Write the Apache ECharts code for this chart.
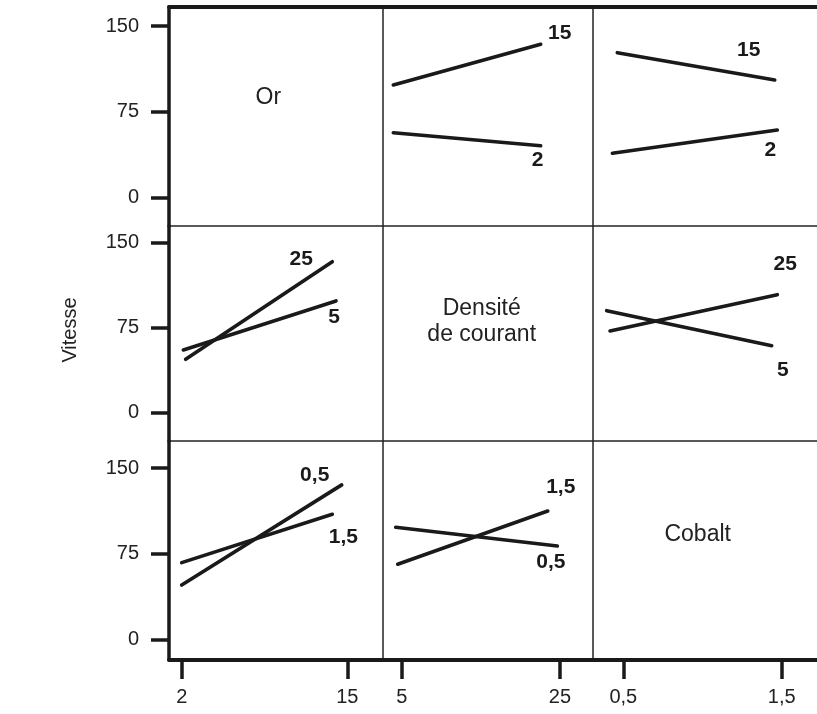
<!DOCTYPE html>
<html><head><meta charset="utf-8">
<script src="https://cdn.jsdelivr.net/npm/echarts@6/dist/echarts.min.js"></script>
<style>html,body{margin:0;padding:0;background:#fff}#c{width:817px;height:714px}</style>
</head><body><div id="c"></div>
<script>
// ---- DATA ----
const factorNames = ['Or', 'Densité\nde courant', 'Cobalt'];
const colTicks = [[2, 15], [5, 25], [0.5, 1.5]];
const yTicks = [0, 75, 150];
const yTitle = 'Vitesse';

// Row 1: levels of Or (15, 2)
const orDens_x = [3.94, 22.56];
const orDens_15 = [98.5, 134.0];
const orDens_2 = [56.8, 45.4];
const orCob_x15 = [0.462, 1.456];
const orCob_15 = [126.7, 102.8];
const orCob_x2 = [0.431, 1.472];
const orCob_2 = [38.8, 59.1];
// Row 2: levels of Densité (25, 5)
const densOr_x25 = [2.31, 13.82];
const densOr_25 = [47.1, 133.2];
const densOr_x5 = [2.13, 14.11];
const densOr_5 = [55.3, 98.6];
const densCob_x25 = [0.416, 1.472];
const densCob_25 = [72.1, 104.1];
const densCob_x5 = [0.395, 1.437];
const densCob_5 = [90.0, 59.1];
// Row 3: levels of Cobalt (0,5 / 1,5)
const cobOr_x05 = [2.0, 14.56];
const cobOr_05 = [47.6, 135.4];
const cobOr_x15 = [2.0, 13.82];
const cobOr_15 = [67.2, 109.6];
const cobDens_x15 = [4.49, 23.45];
const cobDens_15 = [65.8, 112.5];
const cobDens_x05 = [4.24, 24.66];
const cobDens_05 = [98.2, 81.8];

const lines = [
  {r:0, c:1, name:'15', x:orDens_x, y:orDens_15},
  {r:0, c:1, name:'2', x:orDens_x, y:orDens_2},
  {r:0, c:2, name:'15', x:orCob_x15, y:orCob_15},
  {r:0, c:2, name:'2', x:orCob_x2, y:orCob_2},
  {r:1, c:0, name:'25', x:densOr_x25, y:densOr_25},
  {r:1, c:0, name:'5', x:densOr_x5, y:densOr_5},
  {r:1, c:2, name:'25', x:densCob_x25, y:densCob_25},
  {r:1, c:2, name:'5', x:densCob_x5, y:densCob_5},
  {r:2, c:0, name:'0,5', x:cobOr_x05, y:cobOr_05},
  {r:2, c:0, name:'1,5', x:cobOr_x15, y:cobOr_15},
  {r:2, c:1, name:'1,5', x:cobDens_x15, y:cobDens_15},
  {r:2, c:1, name:'0,5', x:cobDens_x05, y:cobDens_05}
];

// ---- LAYOUT / STYLE ----
const labelOffsets = [[19,-11],[-3,14],[-26,-30],[-7,20.5],[-31,-2],[-2,16.5],[8,-30],[11,24.5],[-27,-10],[11,23],[13,-24],[-6.5,16]];
const colEdges = [169, 383, 593, 821];
const rowEdges = [7, 226, 441, 660];
const xRanges = [[1.003, 17.80], [2.637, 29.17], [0.3087, 1.748]];
const yRanges = [[-24.7, 166.6], [-25.0, 164.7], [-18.2, 173.9]];
const ink = '#1a1a1a';
const font = 'Liberation Sans, Arial, sans-serif';

const grid = [], xAxis = [], yAxis = [], series = [];
for (let r = 0; r < 3; r++) {
  for (let c = 0; c < 3; c++) {
    const gi = r * 3 + c;
    grid.push({left: colEdges[c], top: rowEdges[r], width: colEdges[c+1]-colEdges[c], height: rowEdges[r+1]-rowEdges[r],
      show: true, borderColor: '#222', borderWidth: 1, containLabel: false, outerBoundsMode: 'none'});
    xAxis.push({type: 'value', gridIndex: gi, min: xRanges[c][0], max: xRanges[c][1],
      position: r === 0 ? 'top' : 'bottom',
      axisLine: {show: r !== 1, onZero: false, lineStyle: {color: ink, width: 4}},
      axisTick: {show: r === 2, customValues: colTicks[c], length: 19, lineStyle: {color: ink, width: 3.5}},
      axisLabel: {show: r === 2, customValues: colTicks[c], margin: 27, fontSize: 20, color: '#222', fontFamily: font,
        formatter: v => String(v).replace('.', ',')},
      splitLine: {show: false}});
    yAxis.push({type: 'value', gridIndex: gi, min: yRanges[r][0], max: yRanges[r][1],
      axisLine: {show: c === 0, onZero: false, lineStyle: {color: ink, width: 3.5}},
      axisTick: {show: c === 0, customValues: yTicks, length: 18, lineStyle: {color: ink, width: 3.5}},
      axisLabel: {show: c === 0, customValues: yTicks, margin: 30, fontSize: 20, color: '#222', fontFamily: font},
      splitLine: {show: false}});
  }
}
lines.forEach((ln, i) => {
  const gi = ln.r * 3 + ln.c;
  series.push({type: 'line', xAxisIndex: gi, yAxisIndex: gi, symbol: 'circle', symbolSize: 2,
    itemStyle: {color: ink}, lineStyle: {color: ink, width: 3.6, cap: 'round'},
    data: [
      {value: [ln.x[0], ln.y[0]]},
      {value: [ln.x[1], ln.y[1]], label: {show: true, position: 'inside', formatter: ln.name, offset: labelOffsets[i],
        fontSize: 21, fontWeight: 'bold', color: ink, fontFamily: font}}
    ]});
});

const textPos = [[268.3, 97.7], [481.7, 321.7], [697.7, 534.3]];
const graphic = factorNames.map((t, i) => ({type: 'text', x: textPos[i][0], y: textPos[i][1],
  style: {text: t, lineHeight: 26, fill: '#222', font: '23px ' + font, align: 'center', verticalAlign: 'middle'}}));
graphic.push({type: 'text', x: 70, y: 330, rotation: Math.PI / 2,
  style: {text: yTitle, font: '20px ' + font, fill: '#222', align: 'center', verticalAlign: 'middle'}});

const chart = echarts.init(document.getElementById('c'), null, {renderer: 'canvas'});
chart.setOption({animation: false, backgroundColor: '#fff', grid, xAxis, yAxis, series, graphic});
</script></body></html>
